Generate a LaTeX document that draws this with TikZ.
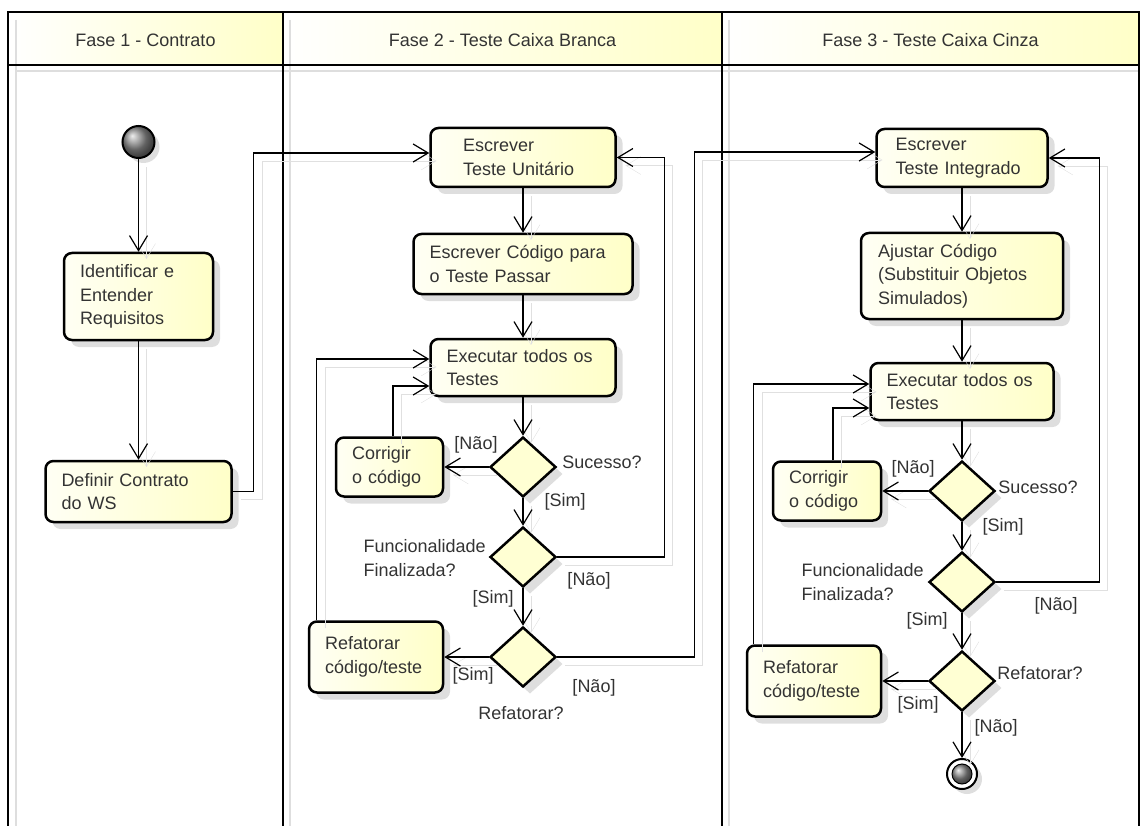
\documentclass[tikz,border=0pt]{standalone}
\usepackage{fontspec}
\setmainfont{Liberation Sans}
\usetikzlibrary{arrows.meta,shapes.geometric,shadows}

\definecolor{actlight}{HTML}{FFFFF4}
\definecolor{actdark}{HTML}{FFFFC8}
\definecolor{txt}{HTML}{333333}

\tikzset{
	every node/.style={text=txt, font=\fontsize{18}{23.5}\selectfont},
	actbox/.style={draw=black, line width=2.5pt, rounded corners=8pt, left color=actlight, right color=actdark, inner xsep=16pt, inner ysep=0pt, align=left, drop shadow={shadow xshift=7pt, shadow yshift=-7pt, fill=black!13, opacity=1}},
	choice/.style={diamond, draw=black, line width=2.5pt, fill=actdark!80, minimum width=66pt, minimum height=60pt, inner sep=0pt, drop shadow={shadow xshift=7pt, shadow yshift=-7pt, fill=black!13, opacity=1}},
	flow/.style={-{Straight Barb[length=15pt,width=18pt]}, line width=1.2pt, preaction={draw=black!12, transform canvas={shift={(8pt,-8pt)}}}},
}

\begin{document}
\begin{tikzpicture}[x=1pt, y=-1pt]
			\useasboundingbox (0,0) rectangle (1140,826);
			\shade[left color=white, right color=actdark] (8,12) rectangle (283,65);
			\shade[left color=white, right color=actdark] (283,12) rectangle (722,65);
			\shade[left color=white, right color=actdark] (722,12) rectangle (1139,65);
			\draw[black!13, line width=2.5pt] (16,20) -- (16,826) (290,20) -- (290,826) (729,20) -- (729,826) (16,71) -- (1139,71);
			\draw[line width=2.5pt] (8,826) -- (8,12) -- (1139,12) -- (1139,826);
			\draw[line width=2.5pt] (8,65) -- (1139,65);
			\foreach \x in {283, 722}
			\draw[line width=2.5pt] (\x,12) -- (\x,826);
			\node (hdr1) at (145.5,40) {Fase 1 - Contrato};
			\node (hdr2) at (502.5,40) {Fase 2 - Teste Caixa Branca};
			\node (hdr3) at (930.5,40) {Fase 3 - Teste Caixa Cinza};

			\node[circle, draw=black, line width=2pt, minimum size=32pt, inner sep=0pt, ball color=black!45, drop shadow={shadow xshift=5pt, shadow yshift=-5pt, fill=black!13, opacity=1}] (start) at (138.5,142) {};
			\node[actbox, minimum width=149pt, minimum height=87pt, text width=117pt] (ident) at (138.5,296.5) {Identificar e\\Entender\\Requisitos};
			\node[actbox, minimum width=186pt, minimum height=61pt, text width=154pt] (contrato) at (138.5,491.5) {Definir Contrato\\do WS};

			\node[actbox, minimum width=185pt, minimum height=59pt, text width=120pt] (unit) at (523,157.5) {Escrever\\Teste Unitário};
			\node[actbox, minimum width=219pt, minimum height=60pt, text width=187pt] (codigo) at (523,264) {Escrever Código para\\o Teste Passar};
			\node[actbox, minimum width=185pt, minimum height=57pt, text width=153pt] (exec2) at (523,367.5) {Executar todos os\\Testes};
			\node[choice] (sucesso2) at (523,467) {};
			\node[actbox, minimum width=107pt, minimum height=59pt, text width=75pt] (corr2) at (389.5,467) {Corrigir\\o código};
			\node[choice] (func2) at (523,557) {};
			\node[choice] (refq2) at (523,657) {};
			\node[actbox, minimum width=134pt, minimum height=71pt, text width=102pt] (refat2) at (376,657) {Refatorar\\código/teste};

			\node[actbox, minimum width=171pt, minimum height=58pt, text width=133pt] (integ) at (962,158) {Escrever\\Teste Integrado};
			\node[actbox, minimum width=202pt, minimum height=86pt, text width=168pt] (ajustar) at (962,276) {Ajustar Código\\(Substituir Objetos\\Simulados)};
			\node[actbox, minimum width=183pt, minimum height=57pt, text width=151pt] (exec3) at (962,391.5) {Executar todos os\\Testes};
			\node[choice] (sucesso3) at (962,491) {};
			\node[actbox, minimum width=108pt, minimum height=59pt, text width=76pt] (corr3) at (827,491) {Corrigir\\o código};
			\node[choice] (func3) at (962,582) {};
			\node[choice] (refq3) at (962,681) {};
			\node[actbox, minimum width=134pt, minimum height=71pt, text width=102pt] (refat3) at (814,681) {Refatorar\\código/teste};
			\node[circle, draw=black, line width=2pt, minimum size=30pt, inner sep=0pt, fill=white, drop shadow={shadow xshift=5pt, shadow yshift=-5pt, fill=black!13, opacity=1}] (stop) at (962,774) {};
			\node[circle, draw=black, line width=1pt, minimum size=20pt, inner sep=0pt, ball color=black!45] (stopdot) at (stop) {};

			\draw[flow] (start) -- (ident);
			\draw[flow] (ident) -- (contrato);
			\draw[flow] (contrato.east) -- ++(21,0) |- ([yshift=4.5pt]unit.west);
			\draw[flow] (unit) -- (codigo);
			\draw[flow] (codigo) -- (exec2);
			\draw[flow] (exec2) -- (sucesso2);
			\draw[flow] (sucesso2) -- (corr2);
			\draw[flow] (sucesso2) -- (func2);
			\draw[flow] (func2.east) -- ++(107,0) |- (unit.east);
			\draw[flow] (func2) -- (refq2);
			\draw[flow] (refq2) -- (refat2);
			\draw[flow] (refq2.east) -- ++(137,0) |- ([yshift=6pt]integ.west);
			\draw[flow] ([xshift=3.5pt]corr2.north) |- ([yshift=-18.5pt]exec2.west);
			\draw[flow] ([xshift=9pt]refat2.north west) |- ([yshift=8.5pt]exec2.west);
			\draw[flow] (integ) -- (ajustar);
			\draw[flow] (ajustar) -- (exec3);
			\draw[flow] (exec3) -- (sucesso3);
			\draw[flow] (sucesso3) -- (corr3);
			\draw[flow] (sucesso3) -- (func3);
			\draw[flow] (func3.east) -- ++(103,0) |- (integ.east);
			\draw[flow] (func3) -- (refq3);
			\draw[flow] (refq3) -- (refat3);
			\draw[flow] (refq3) -- (stop);
			\draw[flow] ([xshift=6pt]corr3.north) |- ([yshift=-16.5pt]exec3.west);
			\draw[flow] ([xshift=8pt]refat3.north west) |- ([yshift=7.5pt]exec3.west);

			\node (nao1) at (476,445) {[Não]};
			\node (suc1) at (602,462) {Sucesso?};
			\node (sim1) at (565,502) {[Sim]};
			\node[anchor=west, align=left] (fin1) at (360,558) {Funcionalidade\\Finalizada?};
			\node (nao2) at (589,581) {[Não]};
			\node (sim2) at (493,599) {[Sim]};
			\node (sim3) at (473,676) {[Sim]};
			\node (nao3) at (594,688) {[Não]};
			\node (ref1) at (521,713) {Refatorar?};
			\node (nao4) at (913,469) {[Não]};
			\node (suc2) at (1038,487) {Sucesso?};
			\node (sim4) at (1003,527) {[Sim]};
			\node[anchor=west, align=left] (fin2) at (798,582) {Funcionalidade\\Finalizada?};
			\node (nao5) at (1056,606) {[Não]};
			\node (sim5) at (927,621) {[Sim]};
			\node (ref2) at (1040,673) {Refatorar?};
			\node (sim6) at (918,705) {[Sim]};
			\node (nao6) at (996,728) {[Não]};
		\end{tikzpicture}
\end{document}
